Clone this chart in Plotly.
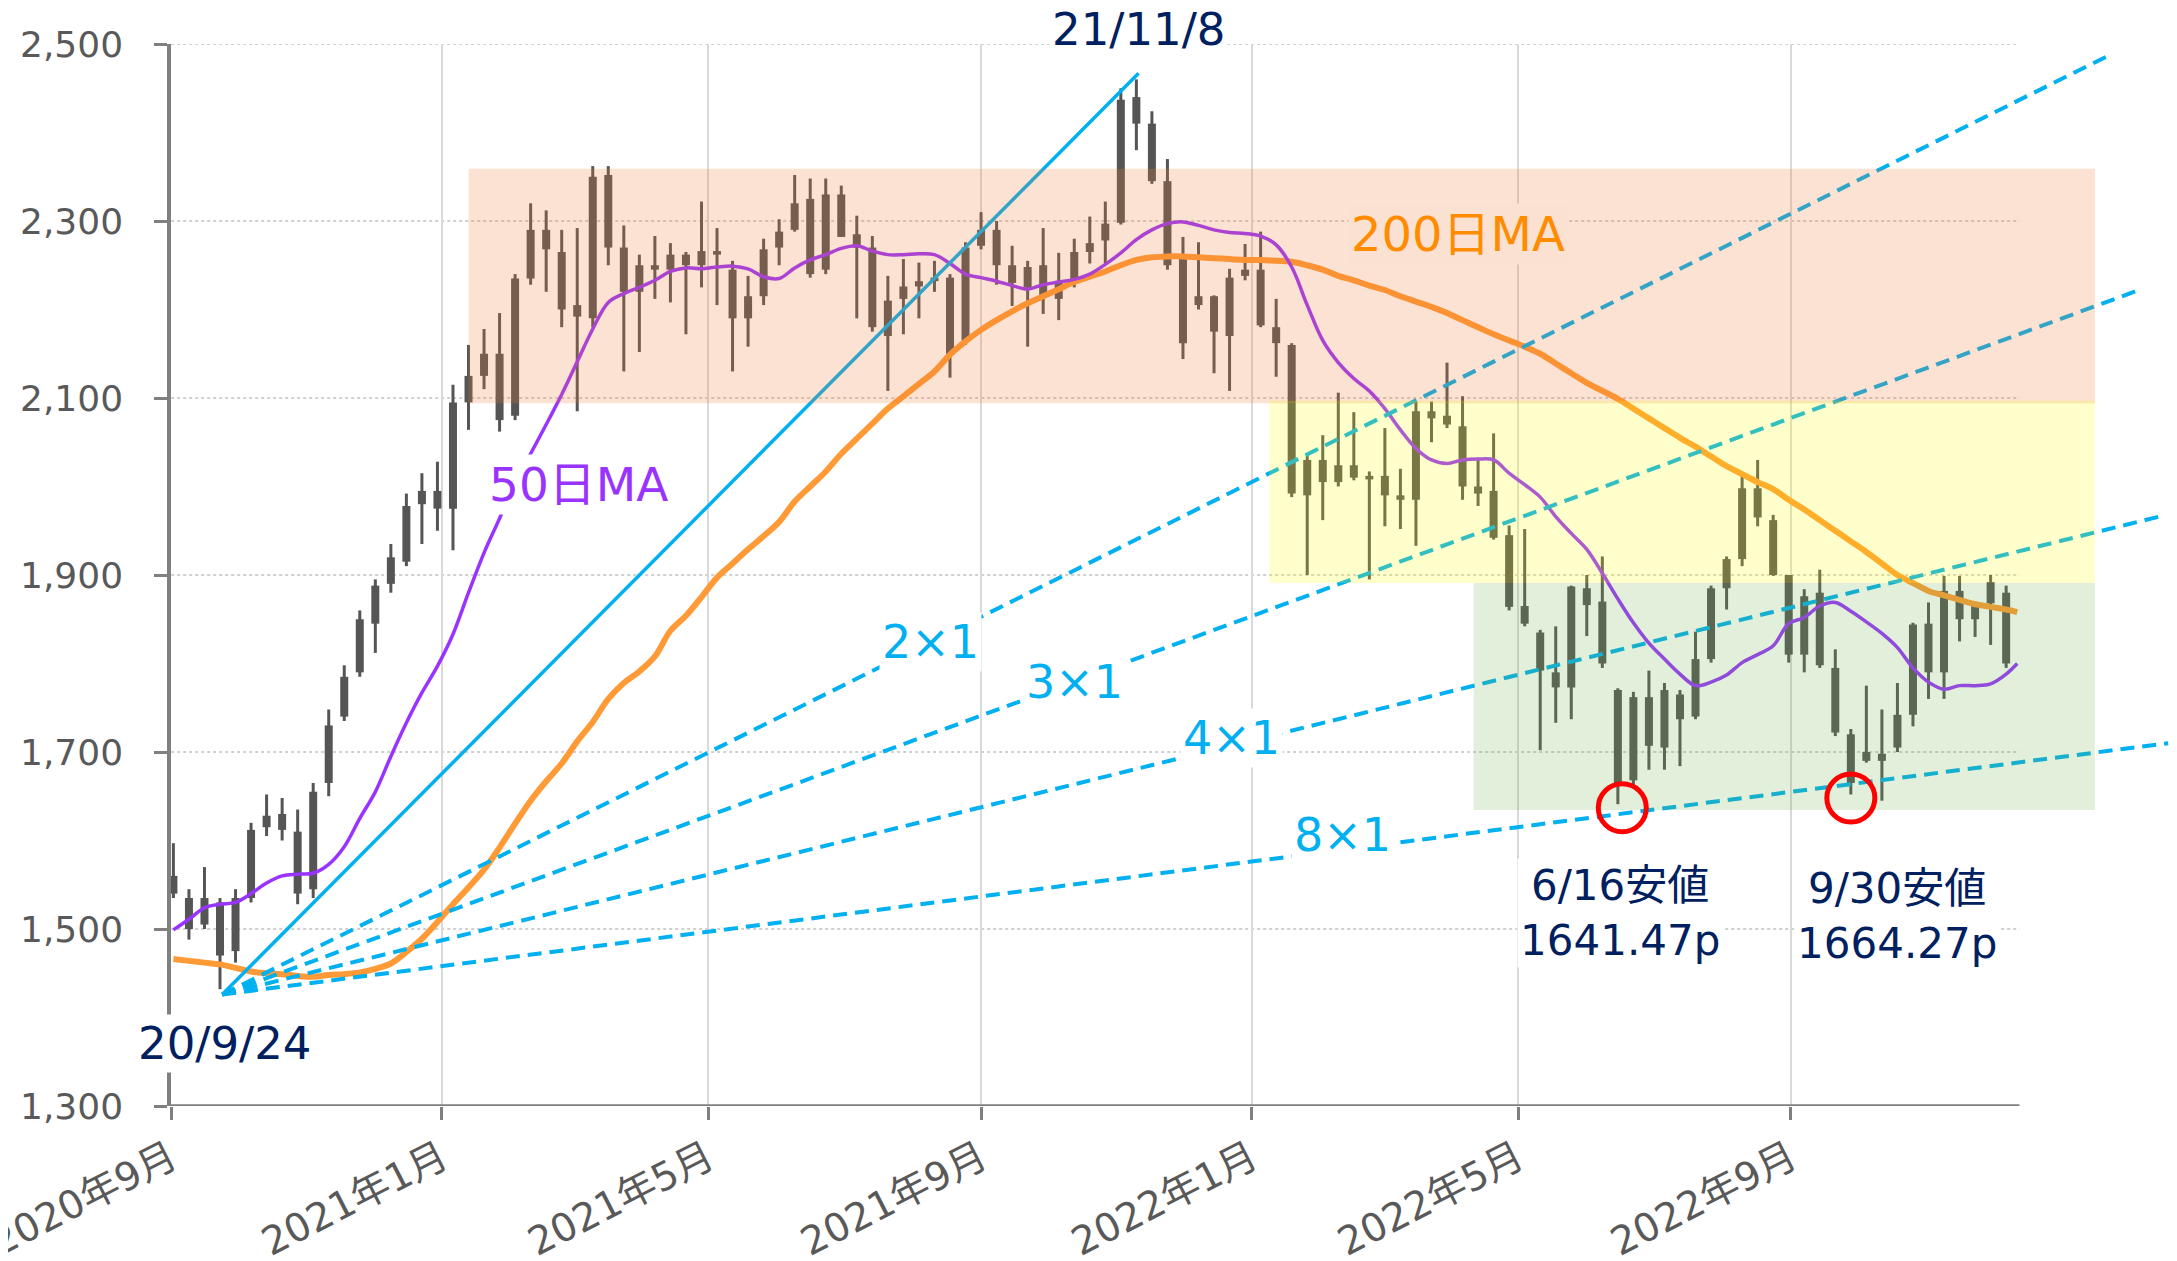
import plotly.graph_objects as go
import pandas as pd

# weekly candles (mid-week date)
week_dates = pd.date_range("2020-09-02", periods=119, freq="7D")

opens = [1560, 1535, 1505, 1530, 1475, 1535, 1615, 1630, 1610, 1545,
         1665, 1740, 1790, 1845, 1890, 1915, 1980, 1995, 1975, 2095,
         2125, 2150, 2080, 2235, 2290, 2265, 2205, 2190, 2352, 2270,
         2220, 2250, 2245, 2262, 2250, 2266, 2245, 2190, 2215, 2270,
         2290, 2325, 2245, 2330, 2285, 2270, 2170, 2212, 2226, 2232,
         2236, 2165, 2272, 2290, 2250, 2225, 2250, 2212, 2232, 2265,
         2278, 2298, 2440, 2410, 2345, 2260, 2205, 2215, 2170, 2238,
         2245, 2180, 2160, 1990, 2030, 2005, 2024, 2008, 2012, 1990,
         1985, 2085, 2080, 2068, 2000, 1995, 1945, 1865, 1835, 1790,
         1773, 1885, 1870, 1770, 1668, 1762, 1705, 1765, 1740, 1805,
         1885, 1918, 1998, 1962, 1900, 1810, 1880, 1795, 1720, 1690,
         1698, 1705, 1742, 1845, 1790, 1882, 1850, 1868, 1880]
highs = [1597, 1545, 1570, 1535, 1545, 1620, 1652, 1648, 1635, 1665,
         1748, 1798, 1860, 1895, 1935, 1992, 2015, 2028, 2115, 2160,
         2178, 2196, 2240, 2320, 2312, 2290, 2292, 2362, 2362, 2295,
         2262, 2283, 2275, 2265, 2322, 2292, 2255, 2238, 2280, 2302,
         2352, 2348, 2348, 2340, 2306, 2283, 2238, 2257, 2253, 2255,
         2240, 2276, 2310, 2300, 2272, 2255, 2292, 2264, 2280, 2305,
         2322, 2450, 2460, 2424, 2370, 2282, 2276, 2216, 2246, 2274,
         2288, 2212, 2162, 2035, 2058, 2106, 2084, 2017, 2066, 2020,
         2096, 2096, 2140, 2102, 2031, 2060, 1956, 1952, 1838, 1842,
         1888, 1900, 1921, 1772, 1768, 1792, 1778, 1770, 1836, 1888,
         1921, 2012, 2030, 1968, 1900, 1884, 1906, 1816, 1726, 1775,
         1748, 1778, 1846, 1869, 1899, 1899, 1870, 1900, 1888]
lows = [1535, 1488, 1500, 1432, 1462, 1530, 1605, 1600, 1528, 1535,
        1650, 1735, 1785, 1812, 1880, 1910, 1935, 1950, 1928, 2064,
        2110, 2062, 2075, 2228, 2220, 2180, 2085, 2180, 2250, 2130,
        2152, 2212, 2208, 2172, 2225, 2205, 2130, 2158, 2205, 2250,
        2288, 2236, 2240, 2282, 2190, 2175, 2108, 2172, 2190, 2220,
        2123, 2160, 2268, 2228, 2204, 2158, 2195, 2188, 2225, 2252,
        2252, 2296, 2380, 2342, 2245, 2144, 2200, 2128, 2108, 2233,
        2180, 2124, 1988, 1900, 1962, 2000, 2007, 1895, 1955, 1952,
        1933, 2050, 2066, 1985, 1978, 1940, 1860, 1842, 1702, 1733,
        1737, 1831, 1795, 1641, 1662, 1680, 1680, 1684, 1737, 1801,
        1861, 1910, 1955, 1899, 1801, 1790, 1795, 1718, 1652, 1688,
        1645, 1700, 1729, 1760, 1760, 1825, 1830, 1821, 1795]
closes = [1540, 1500, 1535, 1470, 1535, 1612, 1628, 1612, 1540, 1655,
          1730, 1785, 1850, 1888, 1920, 1978, 1995, 1975, 2095, 2125,
          2150, 2075, 2235, 2290, 2268, 2200, 2192, 2350, 2270, 2220,
          2250, 2245, 2262, 2250, 2266, 2262, 2190, 2215, 2268, 2288,
          2320, 2240, 2330, 2282, 2270, 2180, 2210, 2226, 2232, 2236,
          2150, 2270, 2290, 2250, 2230, 2248, 2215, 2232, 2265, 2275,
          2297, 2437, 2410, 2345, 2250, 2162, 2215, 2175, 2236, 2245,
          2182, 2162, 1992, 2030, 2005, 2024, 2010, 2012, 1990, 1985,
          2085, 2077, 2070, 2000, 1992, 1942, 1864, 1845, 1792, 1773,
          1887, 1866, 1800, 1665, 1762, 1707, 1770, 1737, 1805, 1885,
          1918, 1998, 1965, 1900, 1810, 1876, 1798, 1722, 1665, 1700,
          1690, 1742, 1844, 1790, 1882, 1850, 1868, 1892, 1800]

# moving averages, sampled weekly plus the last trading day
ma_dates = list(week_dates) + [pd.Timestamp("2022-12-12")]
ma50 = [1499, 1511, 1524, 1528, 1530, 1540, 1552, 1560, 1562, 1563,
        1573, 1593, 1625, 1655, 1695, 1733, 1767, 1797, 1833, 1880,
        1925, 1964, 2005, 2037, 2070, 2104, 2141, 2178, 2208, 2218,
        2225, 2233, 2243, 2247, 2246, 2248, 2249, 2246, 2237, 2235,
        2247, 2256, 2262, 2269, 2272, 2266, 2262, 2262, 2263, 2262,
        2252, 2240, 2236, 2232, 2227, 2223, 2228, 2231, 2234, 2240,
        2251, 2264, 2279, 2290, 2297, 2299, 2295, 2290, 2287, 2286,
        2283, 2273, 2248, 2205, 2165, 2140, 2122, 2108, 2088, 2064,
        2043, 2030, 2026, 2030, 2031, 2030, 2015, 2002, 1988, 1966,
        1947, 1929, 1902, 1873, 1846, 1823, 1805, 1788, 1775, 1779,
        1787, 1801, 1810, 1820, 1845, 1852, 1865, 1869, 1859, 1847,
        1834, 1818, 1795, 1779, 1771, 1775, 1775, 1777, 1788, 1800]
ma200 = [1466, 1464, 1462, 1460, 1456, 1452, 1450, 1449, 1447, 1446,
         1448, 1449, 1451, 1455, 1461, 1474, 1489, 1508, 1528, 1547,
         1567, 1592, 1619, 1645, 1667, 1687, 1712, 1734, 1760, 1778,
         1791, 1808, 1837, 1854, 1875, 1897, 1913, 1929, 1944, 1960,
         1983, 2000, 2017, 2037, 2054, 2071, 2088, 2102, 2116, 2130,
         2149, 2164, 2177, 2188, 2198, 2207, 2215, 2223, 2231, 2237,
         2243, 2250, 2256, 2259, 2260, 2260, 2259, 2258, 2257, 2256,
         2256, 2255, 2254, 2250, 2245, 2238, 2233, 2227, 2222, 2215,
         2209, 2203, 2196, 2188, 2180, 2172, 2165, 2158, 2150, 2139,
         2128, 2117, 2108, 2099, 2088, 2077, 2066, 2055, 2045, 2034,
         2023, 2014, 2005, 1997, 1985, 1974, 1962, 1950, 1938, 1926,
         1913, 1900, 1891, 1882, 1877, 1872, 1867, 1864, 1861, 1858]

# Gann fan from the 20/9/24 low
fan_origin = ("2020-09-24", 1426)
fan_names = ["1×1", "2×1", "3×1", "4×1", "8×1"]
fan_end_dates = ["2021-11-11", "2023-01-23", "2023-02-06", "2023-02-14", "2023-02-18"]
fan_end_values = [2467, 2488, 2223, 1966, 1710]
fan_label_dates = [None, "2021-08-09", "2021-10-13", "2021-12-23", "2022-02-11"]
fan_label_values = [None, 1824, 1779, 1716, 1606]

# shaded zones
zone_starts = ["2021-01-13", "2022-01-09", "2022-04-11"]
zone_end = "2023-01-16"
zone_lows = [2094, 1891, 1634.5]
zone_highs = [2359, 2097, 1891]
zone_colors = ["rgba(237,125,49,0.22)", "rgba(255,255,0,0.2)", "rgba(112,173,71,0.2)"]

# lows marked with red circles
low_dates = ["2022-06-17", "2022-09-28"]
low_values = [1637, 1648]

tick_dates = ["2020-09-01", "2021-01-01", "2021-05-01", "2021-09-01",
              "2022-01-01", "2022-05-01", "2022-09-01"]
tick_text = ["2020年9月", "2021年1月", "2021年5月", "2021年9月",
             "2022年1月", "2022年5月", "2022年9月"]
y_ticks = [1300, 1500, 1700, 1900, 2100, 2300, 2500]

x_start, x_data_end = "2020-09-01", "2022-12-13"
x_range = ["2020-08-31 22:00", "2023-02-22"]

FONT = "DejaVu Sans, Noto Sans CJK JP"
NAVY = "#002060"
CYAN = "#00b0f0"
CANDLE = "#555555"

fig = go.Figure()

# candles: wicks then bodies
wick_x, wick_y, body_x, body_y = [], [], [], []
for d, o, h, l, c in zip(week_dates, opens, highs, lows, closes):
    wick_x += [d, d, None]
    wick_y += [l, h, None]
    body_x += [d, d, None]
    body_y += [o, c, None]
fig.add_trace(go.Scatter(x=wick_x, y=wick_y, mode="lines",
                         line=dict(color=CANDLE, width=3), hoverinfo="skip"))
fig.add_trace(go.Scatter(x=body_x, y=body_y, mode="lines",
                         line=dict(color=CANDLE, width=8), hoverinfo="skip"))

fig.add_trace(go.Scatter(x=ma_dates, y=ma200, mode="lines",
                         line=dict(color="#ff9a36", width=6, shape="spline"), name="200日MA"))
fig.add_trace(go.Scatter(x=ma_dates, y=ma50, mode="lines",
                         line=dict(color="#9933ff", width=3.5, shape="spline"), name="50日MA"))

shapes = []
# dotted horizontal grid, only over the data span
for v in y_ticks[1:]:
    shapes.append(dict(type="line", xref="x", yref="y", x0=x_start, x1=x_data_end, y0=v, y1=v,
                       line=dict(color="#d0d0d0", width=2, dash="dot"), layer="below"))
# x axis line
shapes.append(dict(type="line", xref="x", yref="y", x0=x_range[0], x1=x_data_end, y0=1300, y1=1300,
                   line=dict(color="#808080", width=3.5), layer="above"))
# fan lines
for i, name in enumerate(fan_names):
    shapes.append(dict(type="line", xref="x", yref="y",
                       x0=fan_origin[0], y0=fan_origin[1],
                       x1=fan_end_dates[i], y1=fan_end_values[i],
                       line=dict(color=CYAN, width=3.5 if i == 0 else 4,
                                 dash="solid" if i == 0 else "14px,8px"),
                       layer="above"))
# zones on top, semi transparent
for x0, lo, hi, col in zip(zone_starts, zone_lows, zone_highs, zone_colors):
    shapes.append(dict(type="rect", xref="x", yref="y", x0=x0, x1=zone_end, y0=lo, y1=hi,
                       fillcolor=col, line=dict(width=0), layer="above"))
# red circles
for d, v in zip(low_dates, low_values):
    shapes.append(dict(type="circle", xref="x", yref="y", xsizemode="pixel", ysizemode="pixel",
                       xanchor=d, yanchor=v, x0=-24, x1=24, y0=-24, y1=24,
                       line=dict(color="#ff0000", width=5), layer="above"))


def label(x, y, text, color, size, bg="white", yshift=0):
    return dict(x=x, y=y, xref="x", yref="y", text=text, showarrow=False,
                font=dict(family=FONT, size=size, color=color),
                bgcolor=bg, borderpad=2, yshift=yshift, align="center")


annotations = [
    label("2021-11-11", 2500, "21/11/8", NAVY, 45, yshift=15),
    label("2020-09-25", 1371, "20/9/24", NAVY, 45),
    label("2022-06-16", 1518, "6/16安値<br>1641.47p", NAVY, 42),
    label("2022-10-19", 1515, "9/30安値<br>1664.27p", NAVY, 42),
    label("2021-03-04", 2002, "50日MA", "#9933ff", 47),
    label("2022-04-04", 2285, "200日MA", "#ff8c00", 48, bg="#fbe1d1"),
]
for i in range(1, len(fan_names)):
    annotations.append(label(fan_label_dates[i], fan_label_values[i], fan_names[i], CYAN, 46))

# page body has an 8px margin, so the figure is 8px smaller than the window
fig.update_layout(
    width=2169, height=1253,
    margin=dict(l=163, r=0, t=36, b=155),
    plot_bgcolor="white", paper_bgcolor="white",
    showlegend=False,
    font=dict(family=FONT, size=36, color="#595959"),
    shapes=shapes, annotations=annotations,
    xaxis=dict(type="date", range=x_range,
               tickvals=tick_dates, ticktext=tick_text, tickangle=-27,
               tickfont=dict(size=39, color="#595959"), ticklabeloverflow="allow",
               showgrid=True, gridcolor="#d9d9d9", gridwidth=2,
               showline=False, zeroline=False,
               ticks="outside", ticklen=13, tickwidth=3, tickcolor="#808080",
               automargin=False),
    yaxis=dict(range=[1300, 2500], tickvals=y_ticks, tickformat=",d",
               tickfont=dict(size=36, color="#595959"), ticklabelstandoff=24,
               showgrid=False, zeroline=False,
               showline=True, linecolor="#808080", linewidth=3.5,
               ticks="outside", ticklen=13, tickwidth=3, tickcolor="#808080",
               automargin=False),
)

fig.write_html("out.html")
